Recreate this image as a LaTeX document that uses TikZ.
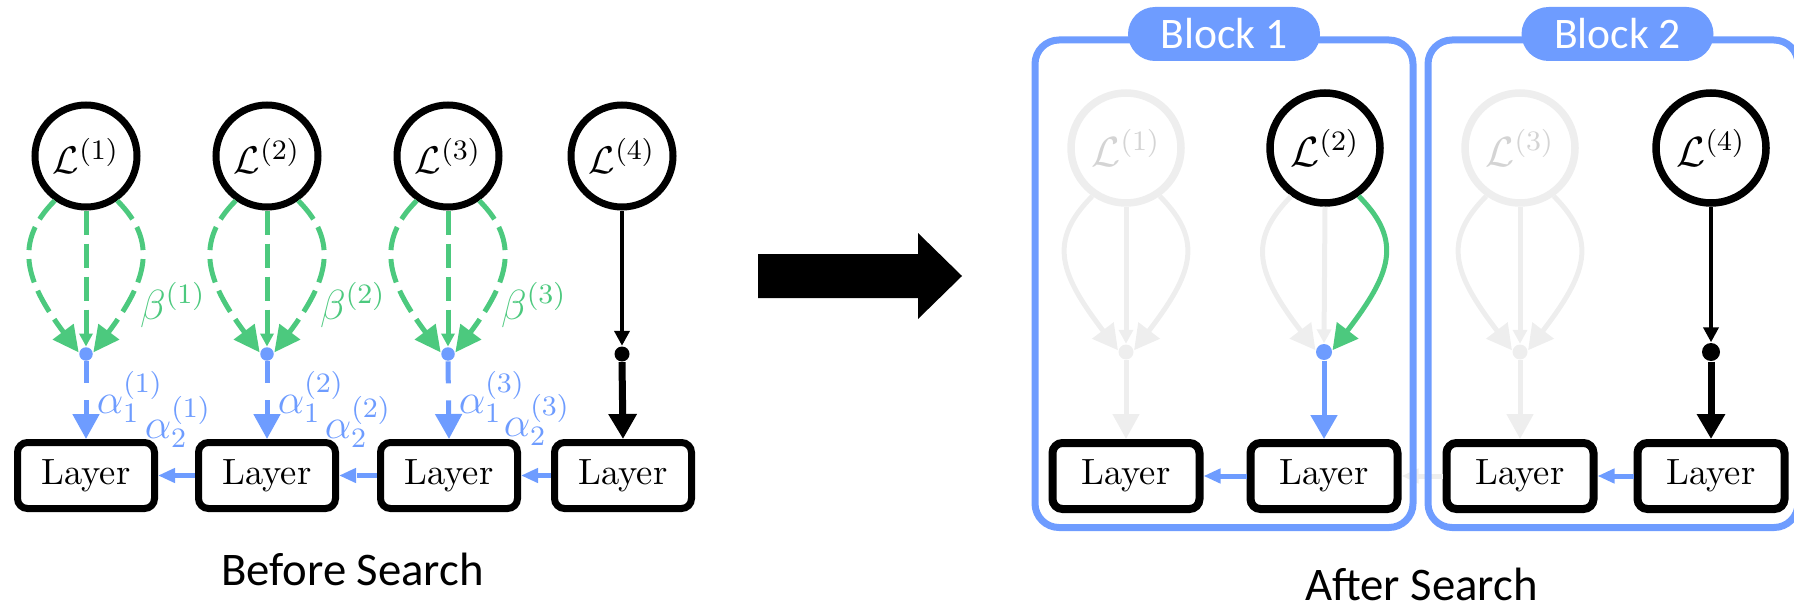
\documentclass[tikz,border=0pt]{standalone}
\usepackage{fontspec}
\newfontfamily\capfont{Carlito}
\usetikzlibrary{arrows.meta}
\definecolor{sblue}{RGB}{110,156,255}
\definecolor{sgreen}{RGB}{76,201,126}
\definecolor{fade}{RGB}{238,238,238}
\definecolor{fadetext}{RGB}{212,212,212}
\begin{document}
\begin{tikzpicture}[x=0.1mm,y=0.1mm,
  loss/.style={circle, draw=black, line width=0.7mm, minimum size=10.2mm, inner sep=0pt, fill=white,
    font=\fontsize{11}{13}\selectfont},
  lossR/.style={loss, line width=0.75mm, minimum size=11mm, font=\fontsize{11.5}{13}\selectfont},
  lossF/.style={lossR, draw=fade, text=fadetext},
  layer/.style={rectangle, rounded corners=1mm, draw=black, line width=0.7mm, minimum width=13.7mm,
    minimum height=6.6mm, inner sep=0pt, fill=white, font=\fontsize{10.4}{12}\selectfont},
  layerR/.style={layer, line width=0.8mm, minimum width=14.7mm},
  dotnode/.style={circle, inner sep=0pt, draw=none, minimum size=#1},
  gdash/.style={sgreen, line width=0.5mm, dash pattern=on 2.4mm off 0.9mm,
    -{Triangle[length=2.6mm,width=2.5mm]}},
  gmid/.style={gdash, -{Triangle[length=1.3mm,width=1.3mm]}},
  bvert/.style={sblue, line width=0.5mm, dash pattern=on 2.2mm off 1.7mm,
    -{Triangle[length=2.5mm,width=2.6mm]}},
  bhoriz/.style={sblue, line width=0.5mm, dash pattern=on 2mm off 1.7mm,
    -{Triangle[length=1.7mm,width=1.4mm]}},
  glabel/.style={text=sgreen, inner sep=0pt, font=\fontsize{11.5}{13}\selectfont},
  blabel/.style={text=sblue, inner sep=0pt, font=\fontsize{11.5}{13}\selectfont},
  thinblack/.style={black, line width=0.4mm, -{Triangle[length=1.5mm,width=1.5mm]}},
  thickblack/.style={black, line width=0.7mm, -{Triangle[length=2.5mm,width=2.7mm]}},
  fadearrow/.style={fade, line width=0.5mm, -{Triangle[length=2.5mm,width=2.6mm]}},
  fademid/.style={fade, line width=0.5mm, -{Triangle[length=1.4mm,width=1.4mm]}},
  greenarrow/.style={sgreen, line width=0.5mm, -{Triangle[length=2.5mm,width=2.6mm]}},
  bluevert/.style={sblue, line width=0.5mm, -{Triangle[length=2.4mm,width=2.6mm]}},
  bluehoriz/.style={sblue, line width=0.5mm, -{Triangle[length=1.7mm,width=1.4mm]}},
  fadehoriz/.style={fade, line width=0.5mm, -{Triangle[length=1.7mm,width=1.4mm]}},
  frame/.style={sblue, line width=0.7mm, rounded corners=2.4mm},
  tab/.style={fill=sblue, rounded corners=2.7mm, minimum width=19.2mm, minimum height=5.4mm,
    inner sep=0pt, text=white, font=\capfont\fontsize{12.4}{14}\selectfont},
  caption/.style={anchor=base, inner sep=0pt, font=\capfont\fontsize{13.3}{15}\selectfont}
]
\clip (0,0) rectangle (1794,608);
\useasboundingbox (0,0) rectangle (1794,608);

% ---------------- before search ----------------
\node[loss] (L1) at (86,452) {$\mathcal{L}^{(1)}$};
\node[loss] (L2) at (267,452) {$\mathcal{L}^{(2)}$};
\node[loss] (L3) at (448,452) {$\mathcal{L}^{(3)}$};
\node[loss] (L4) at (622,452) {$\mathcal{L}^{(4)}$};

\node[dotnode=1.35mm, fill=sblue] (d1) at (86,254) {};
\node[dotnode=1.35mm, fill=sblue] (d2) at (267,254) {};
\node[dotnode=1.35mm, fill=sblue] (d3) at (448,254) {};
\node[dotnode=1.5mm, fill=black] (d4) at (622,254) {};

\node[layer] (B1) at (86,132.5) {Layer};
\node[layer] (B2) at (267,132.5) {Layer};
\node[layer] (B3) at (449,132.5) {Layer};
\node[layer] (B4) at (623,132.5) {Layer};

% weighted loss paths into each merge point
\foreach \i in {1,2,3}{
  \draw[gmid] (L\i.south) -- (d\i.north);
  \draw[gdash] (L\i.235) .. controls +(-41,-41) and +(-54,72) .. (d\i.168);
  \draw[gdash] (L\i.305) .. controls +(41,-41) and +(54,72) .. (d\i.12);
  \draw[bvert] (d\i.south) -- (B\i.north);
}
\draw[thinblack] (L4.south) -- (d4.north);
\draw[thickblack] (d4.south) -- (B4.north);

\draw[bhoriz] (B2.west) -- (B1.east);
\draw[bhoriz] (B3.west) -- (B2.east);
\draw[bhoriz] (B4.west) -- (B3.east);

\node[glabel] (beta1) at (173,303) {$\beta^{(1)}$};
\node[glabel] (beta2) at (353,303) {$\beta^{(2)}$};
\node[glabel] (beta3) at (534,303) {$\beta^{(3)}$};
\node[blabel] (a11) at (130,211) {$\alpha_1^{(1)}$};
\node[blabel] (a12) at (311,211) {$\alpha_1^{(2)}$};
\node[blabel] (a13) at (492,211) {$\alpha_1^{(3)}$};
\node[blabel] (a21) at (178,186) {$\alpha_2^{(1)}$};
\node[blabel] (a22) at (358,186) {$\alpha_2^{(2)}$};
\node[blabel] (a23) at (537,188) {$\alpha_2^{(3)}$};

\node[caption] (capA) at (352.5,23) {Before Search};

% ---------------- transition arrow ----------------
\fill[black] (758,354) -- (918,354) -- (918,375) -- (962,332) -- (918,289)
  -- (918,310) -- (758,310) -- cycle;

% ---------------- after search ----------------
\node[lossF] (La) at (1126,460) {$\mathcal{L}^{(1)}$};
\node[lossR] (Lb) at (1325,460) {$\mathcal{L}^{(2)}$};
\node[lossF] (Lc) at (1520,460) {$\mathcal{L}^{(3)}$};
\node[lossR] (Ld) at (1711,460) {$\mathcal{L}^{(4)}$};

\node[dotnode=1.5mm, fill=fade] (da) at (1126,256) {};
\node[dotnode=1.6mm, fill=sblue] (db) at (1324,256) {};
\node[dotnode=1.5mm, fill=fade] (dc) at (1520,256) {};
\node[dotnode=1.8mm, fill=black] (dd) at (1711,256) {};

\node[layerR] (Ba) at (1126,132) {Layer};
\node[layerR] (Bb) at (1324,132) {Layer};
\node[layerR] (Bc) at (1520,132) {Layer};
\node[layerR] (Bd) at (1711,132) {Layer};

% pruned paths, kept faint
\foreach \n in {a,c}{
  \draw[fademid] (L\n.south) -- (d\n.north);
  \draw[fadearrow] (L\n.235) .. controls +(-45,-45) and +(-58,76) .. (d\n.168);
  \draw[fadearrow] (L\n.305) .. controls +(45,-45) and +(58,76) .. (d\n.12);
  \draw[fadearrow] (d\n.south) -- (B\n.north);
}
\draw[fademid] (Lb.south) -- (db.north);
\draw[fadearrow] (Lb.235) .. controls +(-45,-45) and +(-58,76) .. (db.168);
\draw[fadehoriz] (Bc.west) -- (Bb.east);

% kept paths
\draw[greenarrow] (Lb.305) .. controls +(45,-45) and +(58,76) .. (db.12);
\draw[bluevert] (db.south) -- (Bb.north);
\draw[bluehoriz] (Bb.west) -- (Ba.east);
\draw[thinblack] (Ld.south) -- (dd.north);
\draw[thickblack] (dd.south) -- (Bd.north);
\draw[bluehoriz] (Bd.west) -- (Bc.east);

% block frames and their tabs
\draw[frame] (1035,80.5) rectangle (1413,568);
\draw[frame] (1428,80.5) rectangle (1798,568);
\node[tab] (T1) at (1224,574) {Block 1};
\node[tab] (T2) at (1617.5,574) {Block 2};

\node[caption] (capB) at (1421.5,8) {After Search};
\end{tikzpicture}
\end{document}
